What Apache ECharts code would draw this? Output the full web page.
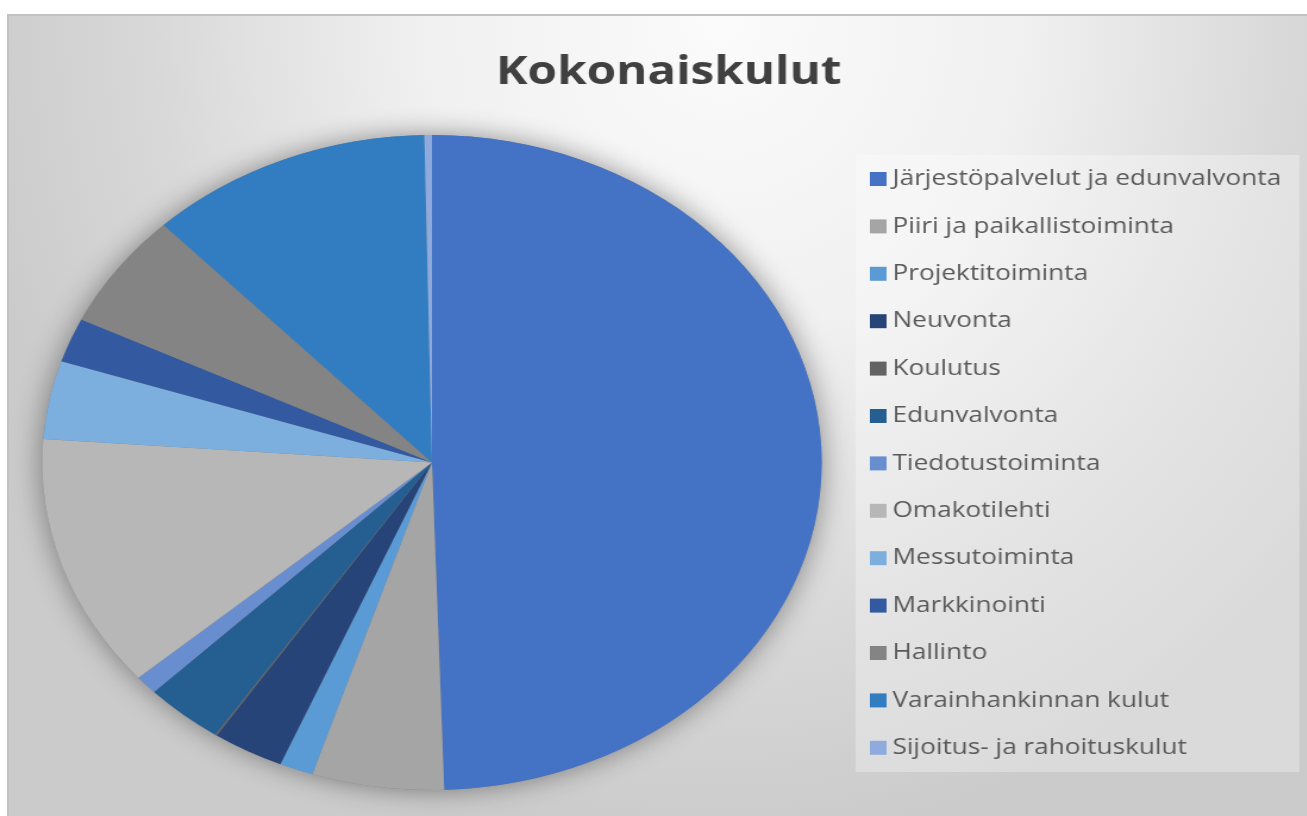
<!DOCTYPE html>
<html>
<head>
<meta charset="utf-8">
<script src="https://cdn.jsdelivr.net/npm/echarts@6/dist/echarts.min.js"></script>
<style>
  html, body { margin: 0; padding: 0; width: 1307px; height: 816px; overflow: hidden; background: #fff; }
  #frame {
    position: absolute; left: 7px; top: 14px; width: 1300px; height: 802px;
    box-sizing: border-box;
    border-top: 2px solid #c2c2c2; border-left: 2px solid #c2c2c2;
    background: radial-gradient(ellipse 760px 820px at 713px 6px, #fbfbfb 0%, #f0f0f0 40%, #d8d8d8 75%, #cbcbcb 100%);
  }
  /* the reference is stretched sideways, so the chart is drawn narrower and scaled */
  #chart { position: absolute; left: 0; top: 0; width: 1098px; height: 816px; transform: scaleX(1.19); transform-origin: 0 0; }
</style>
</head>
<body>
<div id="frame"></div>
<div id="chart"></div>
<script>
const categories = [
  'Järjestöpalvelut ja edunvalvonta',
  'Piiri ja paikallistoiminta',
  'Projektitoiminta',
  'Neuvonta',
  'Koulutus',
  'Edunvalvonta',
  'Tiedotustoiminta',
  'Omakotilehti',
  'Messutoiminta',
  'Markkinointi',
  'Hallinto',
  'Varainhankinnan kulut',
  'Sijoitus- ja rahoituskulut'
];
// share of total costs, %
const shares = [49.5, 5.47, 1.39, 2.96, 0.07, 3.25, 0.94, 12.56, 3.86, 2.19, 5.72, 11.78, 0.31];

const PALETTE = ['#4472c4', '#a5a5a5', '#5b9bd5', '#264478', '#636363', '#255e91',
  '#698ed0', '#b7b7b7', '#7cafdd', '#335aa1', '#848484', '#327dc2', '#8faadc'];
const FONT = '"Open Sans", "Noto Sans", sans-serif';
const CENTER = [363, 462.5];
const RADIUS = 327.5;

const chart = echarts.init(document.getElementById('chart'), null, { renderer: 'canvas' });
chart.setOption({
  animation: false,
  color: PALETTE,
  title: {
    text: 'Kokonaiskulut',
    left: 557,
    top: 48,
    textAlign: 'center',
    textStyle: { fontFamily: FONT, fontWeight: 'bold', fontSize: 40, color: '#404040' }
  },
  legend: {
    orient: 'vertical',
    left: 731,
    top: 167,
    padding: 0,
    icon: 'rect',
    itemWidth: 14,
    itemHeight: 14,
    itemGap: 23.4,
    selectedMode: false,
    textStyle: { fontFamily: FONT, fontSize: 22, lineHeight: 24, color: '#595959' },
    data: categories
  },
  graphic: [{
    type: 'rect',
    left: 719,
    top: 155,
    z: 0,
    silent: true,
    shape: { width: 373, height: 617 },
    style: { fill: 'rgba(255,255,255,0.3)' }
  }],
  series: [
    {
      // shadow backdrop under the whole pie
      type: 'pie',
      silent: true,
      center: CENTER,
      radius: RADIUS,
      label: { show: false },
      labelLine: { show: false },
      itemStyle: { color: '#808080', borderWidth: 0, shadowBlur: 26, shadowColor: 'rgba(0,0,0,0.42)' },
      data: [{ value: 1, name: '' }]
    },
    {
      name: 'Kokonaiskulut',
      type: 'pie',
      center: CENTER,
      radius: RADIUS,
      startAngle: 90,
      clockwise: true,
      label: { show: false },
      labelLine: { show: false },
      itemStyle: { borderWidth: 0 },
      emphasis: { disabled: true },
      data: categories.map((name, i) => ({ name, value: shares[i] }))
    }
  ]
});
</script>
</body>
</html>
